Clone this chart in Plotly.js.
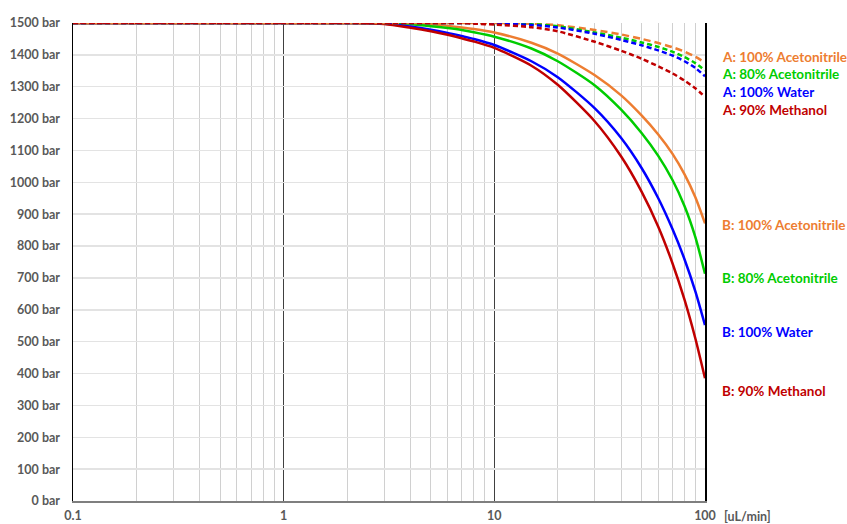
<!DOCTYPE html>
<html>
<head>
<meta charset="utf-8">
<script src="https://cdn.plot.ly/plotly-3.0.1.min.js"></script>
<style>html,body{margin:0;padding:0;background:#fff;}#chart{width:847px;height:524px;}</style>
</head>
<body>
<div id="chart"></div>
<script>
// Flow rate [uL/min]
const flow = [0.1, 1, 2, 3, 4, 5, 6, 7, 8, 10, 15, 20, 30, 40, 50, 60, 70, 80, 90, 100];

// B curves (solid)
const bAcn100 = [1500,1500,1500,1500,1499,1496,1491,1486,1481,1470,1438,1404,1336,1273,1210,1150,1090,1025,953,871];
const bAcn80  = [1500,1500,1500,1500,1496,1490,1484,1478,1471,1457,1420,1380,1304,1228,1155,1083,1008,925,828,713];
const bWater  = [1500,1500,1500,1499,1489,1479,1469,1459,1450,1431,1380,1330,1232,1139,1045,950,854,758,658,552];
const bMeOH90 = [1500,1500,1500,1497,1485,1474,1463,1452,1442,1422,1366,1306,1191,1081,971,861,747,631,510,385];

// A curves (dashed)
const aAcn100 = [1500,1500,1500,1500,1500,1500,1500,1500,1500,1500,1498,1493,1478,1464,1450,1437,1424,1410,1394,1376];
const aAcn80  = [1500,1500,1500,1500,1500,1500,1500,1500,1500,1499,1496,1490,1470,1454,1439,1425,1410,1393,1374,1351];
const aWater  = [1500,1500,1500,1500,1500,1500,1500,1500,1500,1498,1494,1486,1466,1447,1430,1414,1398,1380,1359,1333];
const aMeOH90 = [1500,1500,1500,1500,1500,1500,1500,1500,1498,1495,1487,1474,1441,1413,1388,1364,1342,1319,1295,1268];

const labelsA = ["A: 100% Acetonitrile","A: 80% Acetonitrile","A: 100% Water","A: 90% Methanol"];
const labelsB = ["B: 100% Acetonitrile","B: 80% Acetonitrile","B: 100% Water","B: 90% Methanol"];
const labelYA = [1393, 1340, 1283, 1227];
const labelYB = [866, 700, 530, 345];
const colors = ["#ED7D31", "#00CC00", "#0000FF", "#C00000"];
const xTickVals = [0.1, 1, 10, 100];
const xTickText = ["0.1", "1", "10", "100"];
const unitText = "[uL/min]";

const FONT = "Lato, 'Open Sans', sans-serif";
const bSeries = [bAcn100, bAcn80, bWater, bMeOH90];
const aSeries = [aAcn100, aAcn80, aWater, aMeOH90];
const aDash = ["7px,4px", "5px,3px", "5px,3px", "5px,3px"];

const traces = [];
bSeries.forEach((ys, i) => traces.push({
  x: flow, y: ys, mode: "lines", name: labelsB[i],
  line: {color: colors[i], width: 2.5, shape: "spline", smoothing: 0.7}
}));
aSeries.forEach((ys, i) => traces.push({
  x: flow, y: ys, mode: "lines", name: labelsA[i],
  line: {color: colors[i], width: 2.5, dash: aDash[i], shape: "spline", smoothing: 0.7}
}));

const annotations = [];
labelsA.forEach((t, i) => annotations.push({
  xref: "paper", yref: "y", x: 1.024, y: labelYA[i], xanchor: "left", yanchor: "middle",
  text: t, showarrow: false, font: {family: FONT, size: 13.5, color: colors[i], weight: 700}
}));
labelsB.forEach((t, i) => annotations.push({
  xref: "paper", yref: "y", x: 1.024, y: labelYB[i], xanchor: "left", yanchor: "middle",
  text: t, showarrow: false, font: {family: FONT, size: 13.5, color: colors[i], weight: 700}
}));
annotations.push({
  xref: "paper", yref: "paper", x: 1.027, y: -0.032, xanchor: "left", yanchor: "middle",
  text: unitText, showarrow: false, font: {family: FONT, size: 12.5, color: "#595959", weight: 700}
});

const layout = {
  width: 847, height: 524,
  margin: {l: 73, r: 142, t: 23, b: 23},
  paper_bgcolor: "#fff", plot_bgcolor: "#fff",
  showlegend: false,
  xaxis: {
    type: "log", range: [-1, 2],
    tickvals: xTickVals, ticktext: xTickText,
    showgrid: true, gridcolor: "#404040", gridwidth: 1,
    minor: {dtick: "D1", showgrid: true, gridcolor: "#d0d0d0", gridwidth: 1},
    showline: true, linecolor: "#7f7f7f", linewidth: 2,
    zeroline: false, ticks: "",
    ticklabelstandoff: 2,
    tickfont: {family: FONT, size: 12.5, color: "#595959", weight: 700}
  },
  yaxis: {
    range: [0, 1500], dtick: 100, ticksuffix: " bar",
    showgrid: true, gridcolor: "#e3e3e3", gridwidth: 1.5,
    showline: true, linecolor: "#000", linewidth: 1.5, mirror: true,
    zeroline: false, ticks: "",
    ticklabelstandoff: 9,
    tickfont: {family: FONT, size: 12.5, color: "#595959", weight: 700}
  },
  annotations: annotations
};

Plotly.newPlot("chart", traces, layout, {staticPlot: true, displayModeBar: false});
</script>
</body>
</html>
